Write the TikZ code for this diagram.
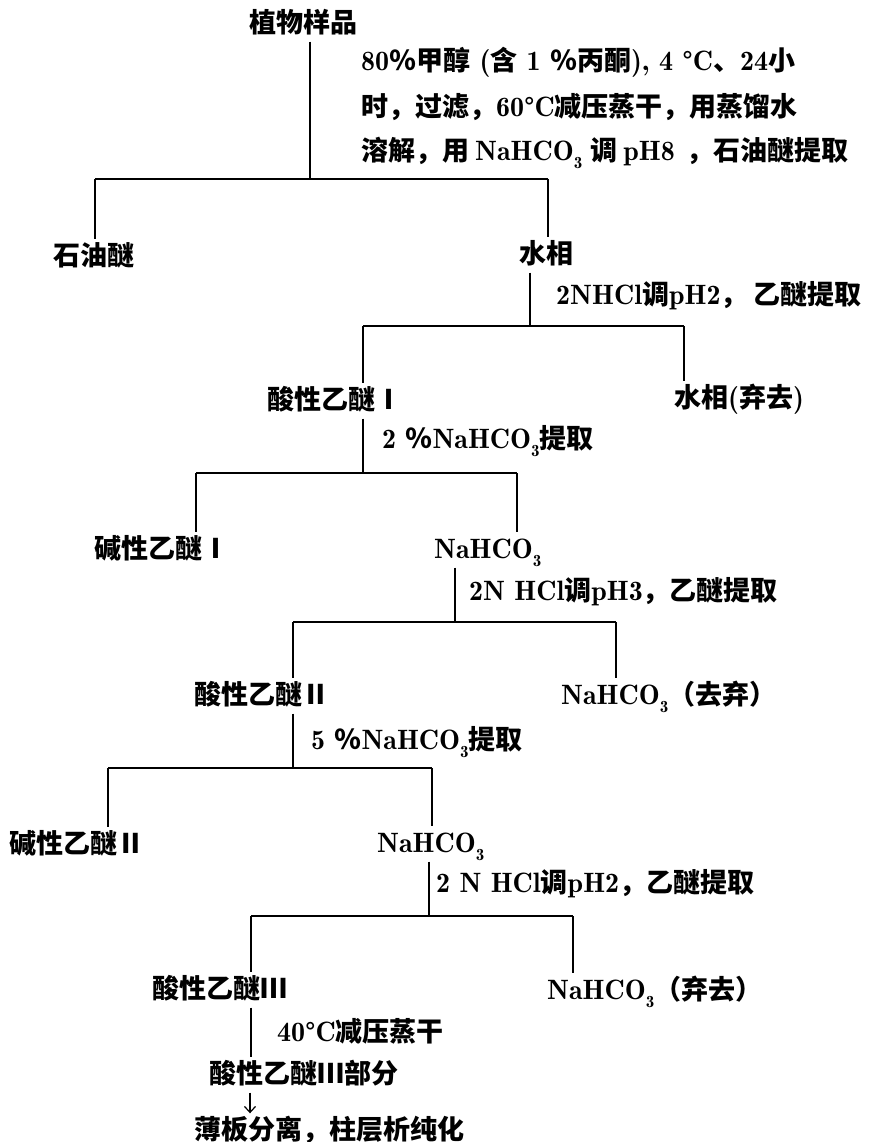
\documentclass[tikz,border=0pt]{standalone}
\usepackage{fontspec}
\usetikzlibrary{arrows.meta}
\newfontfamily\cjk{Noto Sans CJK SC}
\newfontfamily\lat{lmromandemi10-regular.otf}
\newcommand\latn[1]{{\lat\mdseries\fontsize{28}{30}\selectfont #1}}
\newcommand\subs[1]{\raisebox{-0.3em}{\fontsize{17}{17}\selectfont #1}}
\tikzset{
  lbl/.style={anchor=west, inner sep=4pt, text height=22pt, text depth=5pt,
    font=\cjk\bfseries\fontsize{27}{30}\selectfont},
  ln/.style={line width=1.8pt},
  bar/.style={line width=2.6pt},
  arr/.style={line width=1.2pt, -{Straight Barb[length=6pt,width=11pt]}},
}
\begin{document}
\begin{tikzpicture}[x=1pt,y=-1pt]
\useasboundingbox[fill=white] (0,0) rectangle (883,1142);
% text nodes
\node[lbl] (n0) at (245,24) {植物样品};
\node[lbl] (m1a) at (357,62) {\latn{80}％甲醇\latn{ (}含\latn{ 1 }％丙酮\latn{), 4 °C}、\latn{24}小};
\node[lbl] (m1b) at (357,108) {时，过滤，\latn{60°C}减压蒸干，用蒸馏水};
\node[lbl] (m1c) at (357,152) {溶解，用\hspace{6pt}\latn{NaHCO\subs{3}}\hspace{8pt}调\hspace{6pt}\latn{pH8}\hspace{12pt}，石油醚提取};
\node[lbl] (shiyou) at (49,257) {石油醚};
\node[lbl] (shui1) at (515,255) {水相};
\node[lbl] (m2) at (552,296) {\latn{2NHCl}调\latn{pH2}，\ 乙醚提取};
\node[lbl] (suan1) at (263,401) {酸性乙醚Ⅰ};
\node[lbl] (shui2) at (670,399) {水相\latn{(}弃去\latn{)}};
\node[lbl] (m3) at (378,440) {\latn{2 }％\latn{NaHCO\subs{3}}提取};
\node[lbl] (jian1) at (90,550) {碱性乙醚Ⅰ};
\node[lbl] (na1) at (430,550) {\latn{NaHCO\subs{3}}};
\node[lbl] (m4) at (465,592) {\latn{2N HCl}调\latn{pH3}，乙醚提取};
\node[lbl] (suan2) at (190,696) {酸性乙醚Ⅱ};
\node[lbl] (na2) at (557,696) {\latn{NaHCO\subs{3}}（去弃）};
\node[lbl] (m5) at (307,741) {\latn{5 }％\latn{NaHCO\subs{3}}提取};
\node[lbl] (jian2) at (5,845) {碱性乙醚Ⅱ};
\node[lbl] (na3) at (373,844) {\latn{NaHCO\subs{3}}};
\node[lbl] (m6) at (432,884) {\latn{2 N HCl}调\latn{pH2}，乙醚提取};
\node[lbl] (suan3) at (148,990) {酸性乙醚Ⅲ};
\node[lbl] (na4) at (543,991) {\latn{NaHCO\subs{3}}（弃去）};
\node[lbl] (m7) at (273,1033) {\latn{40°C}减压蒸干};
\node[lbl] (part) at (205,1075) {酸性乙醚Ⅲ部分};
\node[lbl] (final) at (190,1131) {薄板分离，柱层析纯化};
% bar coordinates
\coordinate (b1l) at (95,179);  \coordinate (b1m) at (310,179); \coordinate (b1r) at (548,179);
\coordinate (b2l) at (363,326); \coordinate (b2m) at (530,326); \coordinate (b2r) at (684,326);
\coordinate (b3l) at (196,473); \coordinate (b3m) at (363,473); \coordinate (b3r) at (517,473);
\coordinate (b4l) at (293,622); \coordinate (b4m) at (455,622); \coordinate (b4r) at (616,622);
\coordinate (b5l) at (108,768); \coordinate (b5m) at (293,768); \coordinate (b5r) at (432,768);
\coordinate (b6l) at (251,916); \coordinate (b6m) at (429,916); \coordinate (b6r) at (573,916);
\coordinate (v8) at (250,0);
% level 1
\draw[ln] (n0.south -| b1m) -- (b1m);
\draw[bar] (b1l) -- (b1r);
\draw[ln] (b1l) -- (b1l |- shiyou.north);
\draw[ln] (b1r) -- (b1r |- shui1.north);
% level 2
\draw[ln] (shui1.south -| b2m) -- (b2m);
\draw[bar] (b2l) -- (b2r);
\draw[ln] (b2l) -- (b2l |- suan1.north);
\draw[ln] (b2r) -- (b2r |- shui2.north);
% level 3
\draw[ln] (suan1.south -| b3m) -- (b3m);
\draw[bar] (b3l) -- (b3r);
\draw[ln] (b3l) -- (b3l |- jian1.north);
\draw[ln] (b3r) -- (b3r |- na1.north);
% level 4
\draw[ln] (na1.south -| b4m) -- (b4m);
\draw[bar] (b4l) -- (b4r);
\draw[ln] (b4l) -- (b4l |- suan2.north);
\draw[ln] (b4r) -- (b4r |- na2.north);
% level 5
\draw[ln] (suan2.south -| b5m) -- (b5m);
\draw[bar] (b5l) -- (b5r);
\draw[ln] (b5l) -- (b5l |- jian2.north);
\draw[ln] (b5r) -- (b5r |- na3.north);
% level 6
\draw[ln] (na3.south -| b6m) -- (b6m);
\draw[bar] (b6l) -- (b6r);
\draw[ln] (b6l) -- (b6l |- suan3.north);
\draw[ln] (b6r) -- (b6r |- na4.north);
% final steps
\draw[ln] (suan3.south -| b6l) -- (part.north -| b6l);
\draw[arr] (part.south -| v8) -- (final.north -| v8);
\end{tikzpicture}
\end{document}
